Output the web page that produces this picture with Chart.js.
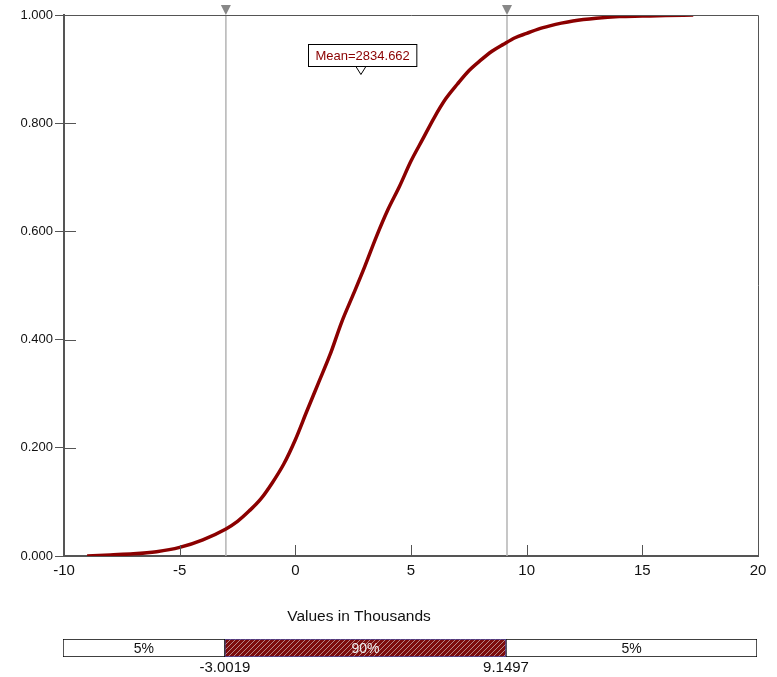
<!DOCTYPE html>
<html>
<head>
<meta charset="utf-8">
<script src="https://cdn.jsdelivr.net/npm/chart.js@4.4.1/dist/chart.umd.min.js"></script>
<style>
  body { margin: 0; background: #fff; }
  #wrap { position: relative; width: 777px; height: 677px; }
  #cdf { position: absolute; left: 0; top: 0; }
  #band { position: absolute; left: 0; top: 630px; }
</style>
</head>
<body>
<div id="wrap">
  <canvas id="cdf" width="777" height="630"></canvas>
  <canvas id="band" width="777" height="47"></canvas>
</div>
<script>
// cumulative curve, values in thousands
var xValues = [-9.0, -8.0, -7.0, -6.0, -5.0, -4.0, -3.0, -2.5, -2.0, -1.5, -1.0, -0.5,
  0.0, 0.5, 1.0, 1.5, 2.0, 2.5, 3.0, 3.5, 4.0, 4.5, 5.0, 5.5, 6.0, 6.5, 7.0, 7.5,
  8.0, 8.5, 9.0, 9.5, 10.0, 10.5, 11.0, 11.5, 12.0, 13.0, 14.0, 15.0, 16.0, 17.2];
var yValues = [0.000, 0.002, 0.004, 0.008, 0.016, 0.030, 0.050, 0.064, 0.083, 0.105, 0.135, 0.170,
  0.215, 0.268, 0.320, 0.372, 0.432, 0.483, 0.535, 0.590, 0.640, 0.683, 0.730, 0.770, 0.810, 0.845, 0.872, 0.897,
  0.916, 0.933, 0.946, 0.958, 0.966, 0.974, 0.980, 0.985, 0.989, 0.994, 0.997, 0.998, 0.999, 1.000];

// 5% / 95% delimiters and the mean
var cutValues = [-3.0019, 9.1497];
var cutLabels = ["-3.0019", "9.1497"];
var bandLabels = ["5%", "90%", "5%"];
var meanValue = 2.834662;
var meanLabel = "Mean=2834.662";

var xMin = -10, xMax = 20;

Chart.defaults.font.family = "'Liberation Sans', Arial, sans-serif";
Chart.defaults.color = "#111";

var curve = xValues.map(function (x, i) { return { x: x, y: yValues[i] }; });
var cutSets = cutValues.map(function (c) {
  return {
    data: [{ x: c, y: 0 }, { x: c, y: 1 }],
    borderColor: "#b4b4b4",
    borderWidth: 1.5,
    pointRadius: 0,
    order: 2
  };
});

// frame, inner ticks, markers and texts
var extras = {
  id: "extras",
  afterDraw: function (chart) {
    var ctx = chart.ctx, a = chart.chartArea;
    var sx = chart.scales.x, sy = chart.scales.y;
    ctx.save();
    ctx.strokeStyle = "#555";
    ctx.lineWidth = 1;
    ctx.beginPath();
    ctx.moveTo(a.left, a.top + 0.5); ctx.lineTo(a.right + 0.5, a.top + 0.5);
    ctx.lineTo(a.right + 0.5, a.bottom);
    sx.ticks.forEach(function (t) {
      var px = Math.round(sx.getPixelForValue(t.value)) + 0.5;
      ctx.moveTo(px, a.bottom); ctx.lineTo(px, a.bottom - 11);
    });
    sy.ticks.forEach(function (t) {
      var py = Math.round(sy.getPixelForValue(t.value)) + 0.5;
      ctx.moveTo(a.left, py); ctx.lineTo(a.left + 12, py);
    });
    ctx.stroke();

    // grey markers on top of the delimiters
    ctx.fillStyle = "#888";
    cutValues.forEach(function (c) {
      var px = sx.getPixelForValue(c);
      ctx.beginPath();
      ctx.moveTo(px - 5, a.top - 10);
      ctx.lineTo(px + 5, a.top - 10);
      ctx.lineTo(px, a.top);
      ctx.closePath();
      ctx.fill();
    });

    // mean box
    var mx = sx.getPixelForValue(meanValue);
    ctx.font = "13px 'Liberation Sans', Arial, sans-serif";
    var w = ctx.measureText(meanLabel).width + 14;
    var bx = Math.round(mx + 1 - w / 2) + 0.5, by = 44.5;
    ctx.fillStyle = "#fff";
    ctx.fillRect(bx, by, w, 22);
    ctx.strokeStyle = "#000";
    ctx.strokeRect(bx, by, w, 22);
    ctx.fillStyle = "#8b0000";
    ctx.textAlign = "center";
    ctx.textBaseline = "middle";
    ctx.fillText(meanLabel, bx + w / 2, by + 11.5);
    ctx.beginPath();
    ctx.moveTo(mx - 5, by + 22);
    ctx.lineTo(mx + 5, by + 22);
    ctx.lineTo(mx, by + 30);
    ctx.closePath();
    ctx.fillStyle = "#fff";
    ctx.fill();
    ctx.stroke();

    // axis title
    ctx.fillStyle = "#111";
    ctx.font = "15.5px 'Liberation Sans', Arial, sans-serif";
    ctx.fillText("Values in Thousands", 359, 617);
    ctx.restore();
  }
};

new Chart("cdf", {
  type: "line",
  data: {
    datasets: [{
      data: curve,
      borderColor: "#8b0000",
      borderWidth: 3.5,
      pointRadius: 0,
      cubicInterpolationMode: "monotone",
      order: 1
    }].concat(cutSets)
  },
  options: {
    responsive: false,
    animation: false,
    layout: { padding: { top: 15, right: 19, left: 0, bottom: 0 } },
    scales: {
      x: {
        type: "linear", min: xMin, max: xMax,
        ticks: { stepSize: 5, padding: 6, maxRotation: 0, font: { size: 15 } },
        grid: { drawOnChartArea: false, drawTicks: false },
        border: { color: "#555", width: 2 },
        afterFit: function (s) { s.height = 74; }
      },
      y: {
        min: 0, max: 1,
        ticks: { stepSize: 0.2, padding: 2, font: { size: 13 },
          callback: function (v) { return v.toFixed(3); } },
        grid: { drawOnChartArea: false, tickLength: 9, color: "#555" },
        border: { color: "#555", width: 2 },
        afterFit: function (s) { s.width = 64; }
      }
    },
    plugins: { legend: { display: false }, tooltip: { enabled: false } }
  },
  plugins: [extras]
});

// hatch for the 90% band
var tile = document.createElement("canvas");
tile.width = 5; tile.height = 5;
var tc = tile.getContext("2d");
tc.fillStyle = "#7d0c0c";
tc.fillRect(0, 0, 5, 5);
tc.fillStyle = "#b78888";
for (var i = 0; i < 5; i++) tc.fillRect(i, 4 - i, 1, 1);
var hatch = tc.createPattern(tile, "repeat");

var edges = [xMin].concat(cutValues, [xMax]);
var bandSets = bandLabels.map(function (l, i) {
  var mid = i === 1;
  return {
    data: [[edges[i], edges[i + 1]]],
    backgroundColor: mid ? hatch : "#fff",
    borderColor: mid ? "#4a4aa0" : "#000",
    borderWidth: 1,
    borderSkipped: false,
    grouped: false,
    barPercentage: 1,
    categoryPercentage: 1
  };
});

var bandText = {
  id: "bandText",
  afterDatasetsDraw: function (chart) {
    var ctx = chart.ctx, a = chart.chartArea, sx = chart.scales.x;
    ctx.save();
    ctx.textAlign = "center";
    ctx.textBaseline = "middle";
    ctx.font = "14px 'Liberation Sans', Arial, sans-serif";
    chart.data.datasets.forEach(function (d, i) {
      var bar = chart.getDatasetMeta(i).data[0];
      var p = bar.getProps(["x", "base", "y"]);
      ctx.fillStyle = i === 1 ? "#eee" : "#111";
      ctx.fillText(bandLabels[i], (p.x + p.base) / 2, p.y + 1);
    });
    ctx.font = "15px 'Liberation Sans', Arial, sans-serif";
    ctx.fillStyle = "#111";
    cutValues.forEach(function (c, i) {
      ctx.fillText(cutLabels[i], sx.getPixelForValue(c), a.bottom + 11);
    });
    ctx.restore();
  }
};

new Chart("band", {
  type: "bar",
  data: { labels: [""], datasets: bandSets },
  options: {
    indexAxis: "y",
    responsive: false,
    animation: false,
    layout: { padding: { left: 63, right: 20, top: 9, bottom: 20 } },
    scales: {
      x: { type: "linear", min: xMin, max: xMax, display: false },
      y: { display: false }
    },
    plugins: { legend: { display: false }, tooltip: { enabled: false } }
  },
  plugins: [bandText]
});
</script>
</body>
</html>
